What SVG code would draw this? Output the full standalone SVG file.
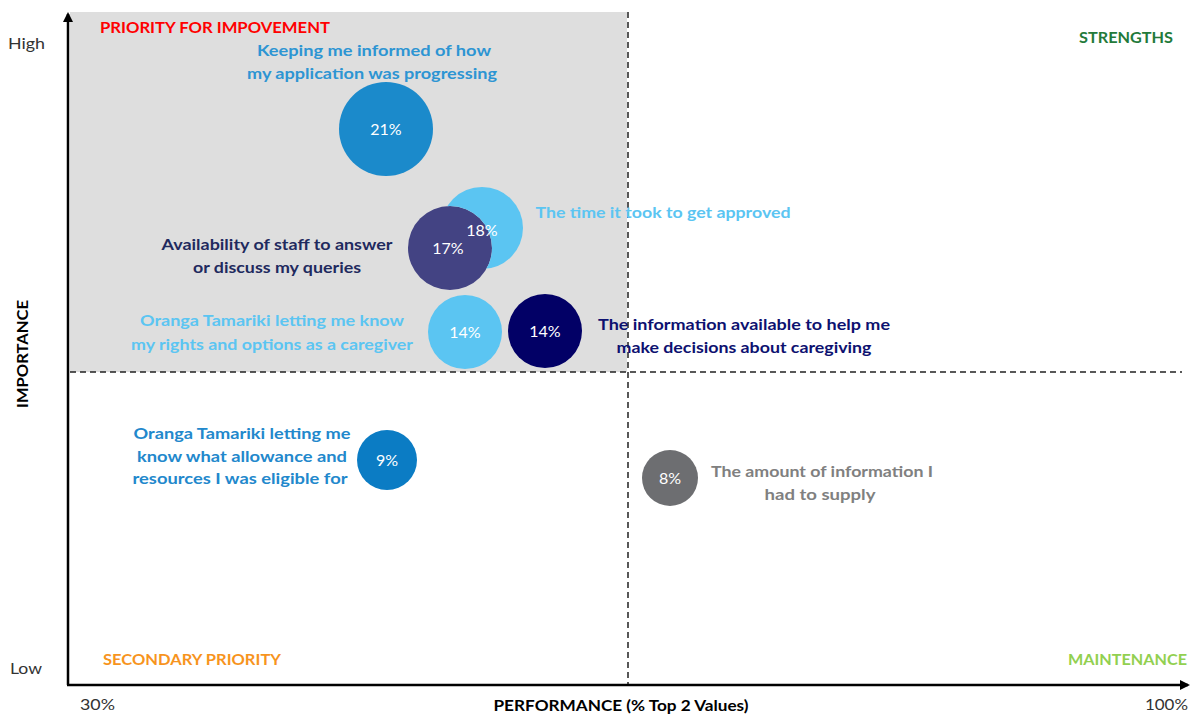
<svg xmlns="http://www.w3.org/2000/svg" width="1195" height="716" viewBox="0 0 1195 716">
<style>
text{font-family:Lato,"Liberation Sans",sans-serif}
.lbl{font-size:16px;font-weight:bold;text-anchor:middle}
.pct{font-size:16px;fill:#fff;text-anchor:middle}
.quad{font-size:15px;font-weight:bold}
.tick{font-size:15px;fill:#333}
.dash{stroke:#222;stroke-width:1.5;stroke-dasharray:6 4;fill:none}
.axis{stroke:#000;stroke-width:2.5;fill:none}
</style>
<defs>
<marker id="ah" markerWidth="10" markerHeight="10" refX="8" refY="5" orient="auto" markerUnits="userSpaceOnUse" viewBox="0 0 10 10">
<path d="M0,0 L10,5 L0,10 z" fill="#000"/>
</marker>
<mask id="behind17" maskUnits="userSpaceOnUse" x="0" y="0" width="1195" height="716">
<rect width="1195" height="716" fill="#fff"/>
<circle cx="450" cy="248" r="42" fill="#000"/>
</mask>
</defs>
<rect width="1195" height="716" fill="#fff"/>
<rect id="priority-zone" x="70" y="12" width="557" height="360" fill="#dedede"/>
<g id="connectors">
<line class="dash" x1="628" y1="12" x2="628" y2="684"/>
<line class="dash" x1="70" y1="372" x2="1182" y2="372"/>
<line class="axis" x1="68" y1="685" x2="68" y2="14" marker-end="url(#ah)"/>
<line class="axis" x1="67" y1="685" x2="1188" y2="685" marker-end="url(#ah)"/>
</g>
<g id="quadrant-labels">
<text class="quad" x="100" y="33" fill="#ff0000" textLength="230" lengthAdjust="spacingAndGlyphs">PRIORITY FOR IMPOVEMENT</text>
<text class="quad" x="1079" y="43" fill="#237a3a" textLength="94" lengthAdjust="spacingAndGlyphs">STRENGTHS</text>
<text class="quad" x="103" y="665" fill="#f7941d" textLength="178" lengthAdjust="spacingAndGlyphs">SECONDARY PRIORITY</text>
<text class="quad" x="1068" y="665" fill="#92d050" textLength="119" lengthAdjust="spacingAndGlyphs">MAINTENANCE</text>
</g>
<g id="axis-labels">
<text class="tick" x="8" y="49" textLength="37" lengthAdjust="spacingAndGlyphs">High</text>
<text class="tick" x="10" y="674" textLength="32" lengthAdjust="spacingAndGlyphs">Low</text>
<text class="tick" x="80" y="710" textLength="35" lengthAdjust="spacingAndGlyphs">30%</text>
<text class="tick" x="1145" y="710" textLength="43" lengthAdjust="spacingAndGlyphs">100%</text>
<text x="621" y="711" font-size="15" font-weight="bold" fill="#000" text-anchor="middle" textLength="255" lengthAdjust="spacingAndGlyphs">PERFORMANCE (% Top 2 Values)</text>
<text x="28" y="354" font-size="15" font-weight="bold" fill="#000" text-anchor="middle" transform="rotate(-90 28 354)" textLength="108" lengthAdjust="spacingAndGlyphs">IMPORTANCE</text>
</g>
<g id="node-informed">
<circle cx="386" cy="129" r="47" fill="#1b8acb"/>
<text class="pct" x="386" y="135">21%</text>
<text class="lbl" x="374" y="56" fill="#2d95d3" textLength="234" lengthAdjust="spacingAndGlyphs">Keeping me informed of how</text>
<text class="lbl" x="372" y="79" fill="#2d95d3" textLength="250" lengthAdjust="spacingAndGlyphs">my application was progressing</text>
</g>
<g id="node-staff">
<circle cx="450" cy="248" r="42" fill="#434383"/>
<text class="pct" x="448" y="254">17%</text>
<text class="lbl" x="277" y="250" fill="#1f2a5e" textLength="231" lengthAdjust="spacingAndGlyphs">Availability of staff to answer</text>
<text class="lbl" x="277" y="273" fill="#1f2a5e" textLength="168" lengthAdjust="spacingAndGlyphs">or discuss my queries</text>
</g>
<g id="node-time">
<circle cx="482" cy="228" r="41" fill="#5bc5f2" mask="url(#behind17)"/>
<text class="pct" x="482" y="236">18%</text>
<text class="lbl" x="663" y="218" fill="#5bc5f2" textLength="255" lengthAdjust="spacingAndGlyphs">The time it took to get approved</text>
</g>
<g id="node-rights">
<circle cx="465" cy="332" r="37" fill="#5bc5f2"/>
<text class="pct" x="465" y="338">14%</text>
<text class="lbl" x="272" y="326" fill="#5bc5f2" textLength="264" lengthAdjust="spacingAndGlyphs">Oranga Tamariki letting me know</text>
<text class="lbl" x="272" y="350" fill="#5bc5f2" textLength="282" lengthAdjust="spacingAndGlyphs">my rights and options as a caregiver</text>
</g>
<g id="node-information">
<circle cx="545" cy="331" r="37" fill="#020066"/>
<text class="pct" x="545" y="337">14%</text>
<text class="lbl" x="744" y="330" fill="#0d1170" textLength="292" lengthAdjust="spacingAndGlyphs">The information available to help me</text>
<text class="lbl" x="744" y="353" fill="#0d1170" textLength="255" lengthAdjust="spacingAndGlyphs">make decisions about caregiving</text>
</g>
<g id="node-allowance">
<circle cx="387" cy="460" r="30" fill="#0b7cc4"/>
<text class="pct" x="387" y="466">9%</text>
<text class="lbl" x="242" y="439" fill="#2288cc" textLength="217" lengthAdjust="spacingAndGlyphs">Oranga Tamariki letting me</text>
<text class="lbl" x="242" y="462" fill="#2288cc" textLength="210" lengthAdjust="spacingAndGlyphs">know what allowance and</text>
<text class="lbl" x="240" y="484" fill="#2288cc" textLength="215" lengthAdjust="spacingAndGlyphs">resources I was eligible for</text>
</g>
<g id="node-amount">
<circle cx="670" cy="478" r="28" fill="#6d6e71"/>
<text class="pct" x="670" y="484">8%</text>
<text class="lbl" x="822" y="477" fill="#808080" textLength="222" lengthAdjust="spacingAndGlyphs">The amount of information I</text>
<text class="lbl" x="820" y="500" fill="#808080" textLength="111" lengthAdjust="spacingAndGlyphs">had to supply</text>
</g>
</svg>
